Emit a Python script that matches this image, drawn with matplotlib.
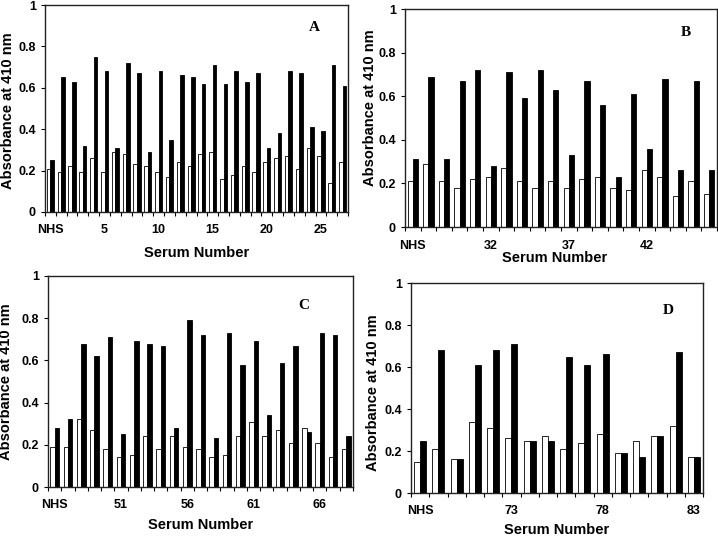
import numpy as np
import matplotlib
matplotlib.use('Agg')
import matplotlib.pyplot as plt

# serum panels: white = pre, black = post (absorbance at 410 nm)
a_labels = ['NHS'] + [str(i) for i in range(1, 28)]
a_white = [0.21, 0.195, 0.22, 0.195, 0.26, 0.195, 0.29, 0.28, 0.23, 0.22,
           0.195, 0.17, 0.24, 0.22, 0.28, 0.29, 0.16, 0.18, 0.22, 0.195,
           0.24, 0.26, 0.27, 0.21, 0.31, 0.27, 0.14, 0.24]
a_black = [0.25, 0.65, 0.63, 0.32, 0.75, 0.68, 0.31, 0.72, 0.67, 0.29,
           0.68, 0.35, 0.66, 0.65, 0.62, 0.71, 0.62, 0.68, 0.63, 0.67,
           0.31, 0.38, 0.68, 0.67, 0.41, 0.39, 0.71, 0.61]

b_labels = ['NHS'] + [str(i) for i in range(28, 47)]
b_white = [0.21, 0.29, 0.21, 0.18, 0.22, 0.23, 0.27, 0.21, 0.18, 0.21,
           0.18, 0.22, 0.23, 0.18, 0.17, 0.26, 0.23, 0.14, 0.21, 0.15]
b_black = [0.31, 0.69, 0.31, 0.67, 0.72, 0.28, 0.71, 0.59, 0.72, 0.63,
           0.33, 0.67, 0.56, 0.23, 0.61, 0.36, 0.68, 0.26, 0.67, 0.26]

c_labels = ['NHS'] + [str(i) for i in range(47, 69)]
c_white = [0.19, 0.19, 0.32, 0.27, 0.18, 0.14, 0.15, 0.24, 0.18, 0.24,
           0.19, 0.18, 0.14, 0.15, 0.24, 0.31, 0.24, 0.27, 0.21, 0.28,
           0.21, 0.14, 0.18]
c_black = [0.28, 0.32, 0.68, 0.62, 0.71, 0.25, 0.69, 0.68, 0.67, 0.28,
           0.79, 0.72, 0.23, 0.73, 0.58, 0.69, 0.34, 0.59, 0.67, 0.26,
           0.73, 0.72, 0.24]

d_labels = ['NHS'] + [str(i) for i in range(69, 84)]
d_white = [0.15, 0.21, 0.16, 0.34, 0.31, 0.26, 0.25, 0.27, 0.21, 0.24,
           0.28, 0.19, 0.25, 0.27, 0.32, 0.17]
d_black = [0.25, 0.68, 0.16, 0.61, 0.68, 0.71, 0.25, 0.25, 0.65, 0.61,
           0.66, 0.19, 0.17, 0.27, 0.67, 0.17]

plt.rcParams['font.family'] = ['Liberation Sans', 'DejaVu Sans']
plt.rcParams['font.weight'] = 'bold'

W, H = 718, 538
fig = plt.figure(figsize=(W / 100, H / 100), dpi=100)


def px_axes(left, top, right, bottom):
    return fig.add_axes([left / W, 1 - bottom / H, (right - left) / W, (bottom - top) / H])


def serum_panel(ax, labels, white, black, letter, letter_xy, xlab_xy, ylab_xy, bw=0.33):
    n = len(labels)
    x = np.arange(n)
    ax.bar(x - bw / 2, white, bw, color='white', edgecolor='black', linewidth=0.6)
    ax.bar(x + bw / 2, black, bw, color='black', edgecolor='black', linewidth=0.6)
    ax.set_xlim(-0.5, n - 0.5)
    ax.set_ylim(0, 1)
    ax.set_yticks([0, 0.2, 0.4, 0.6, 0.8, 1])
    ax.set_yticklabels(['0', '0.2', '0.4', '0.6', '0.8', '1'])
    # tick marks between categories, labels every fifth serum
    ax.set_xticks(np.arange(n + 1) - 0.5)
    ax.set_xticklabels([])
    lab_pos = [0] + [i for i in range(1, n) if int(labels[i]) % 5 == int(labels[5]) % 5]
    ax.set_xticks(lab_pos, minor=True)
    ax.set_xticklabels([labels[i] for i in lab_pos], minor=True)
    ax.tick_params(axis='x', which='major', length=3, width=0.8, direction='out')
    ax.tick_params(axis='x', which='minor', length=0, pad=9, labelsize=9)
    ax.tick_params(axis='y', length=3, width=0.8, labelsize=9)
    for s in ax.spines.values():
        s.set_linewidth(1.0)
        s.set_color('#222222')
    ax.set_xlabel('Serum Number', fontsize=10.5, fontweight='bold')
    ax.set_ylabel('Absorbance at 410 nm', fontsize=10.5, fontweight='bold')
    ax.xaxis.set_label_coords(*xlab_xy)
    ax.yaxis.set_label_coords(*ylab_xy)
    ax.text(letter_xy[0], letter_xy[1], letter, transform=ax.transAxes,
            family=['Liberation Serif', 'DejaVu Serif'], fontweight='bold',
            fontsize=11, ha='center', va='center')


axA = px_axes(45, 5, 348, 212)
serum_panel(axA, a_labels, a_white, a_black, 'A', (0.89, 0.89), (0.50, -0.165), (-0.10, 0.49))

axB = px_axes(405, 9, 717, 227)
serum_panel(axB, b_labels, b_white, b_black, 'B', (0.90, 0.89), (0.48, -0.11), (-0.09, 0.546))

axC = px_axes(48, 276, 353, 487)
serum_panel(axC, c_labels, c_white, c_black, 'C', (0.84, 0.86), (0.50, -0.147), (-0.115, 0.50))

axD = px_axes(411, 283, 703, 493)
serum_panel(axD, d_labels, d_white, d_black, 'D', (0.88, 0.87), (0.50, -0.145), (-0.106, 0.48))

fig.savefig('out.png', dpi=100)
